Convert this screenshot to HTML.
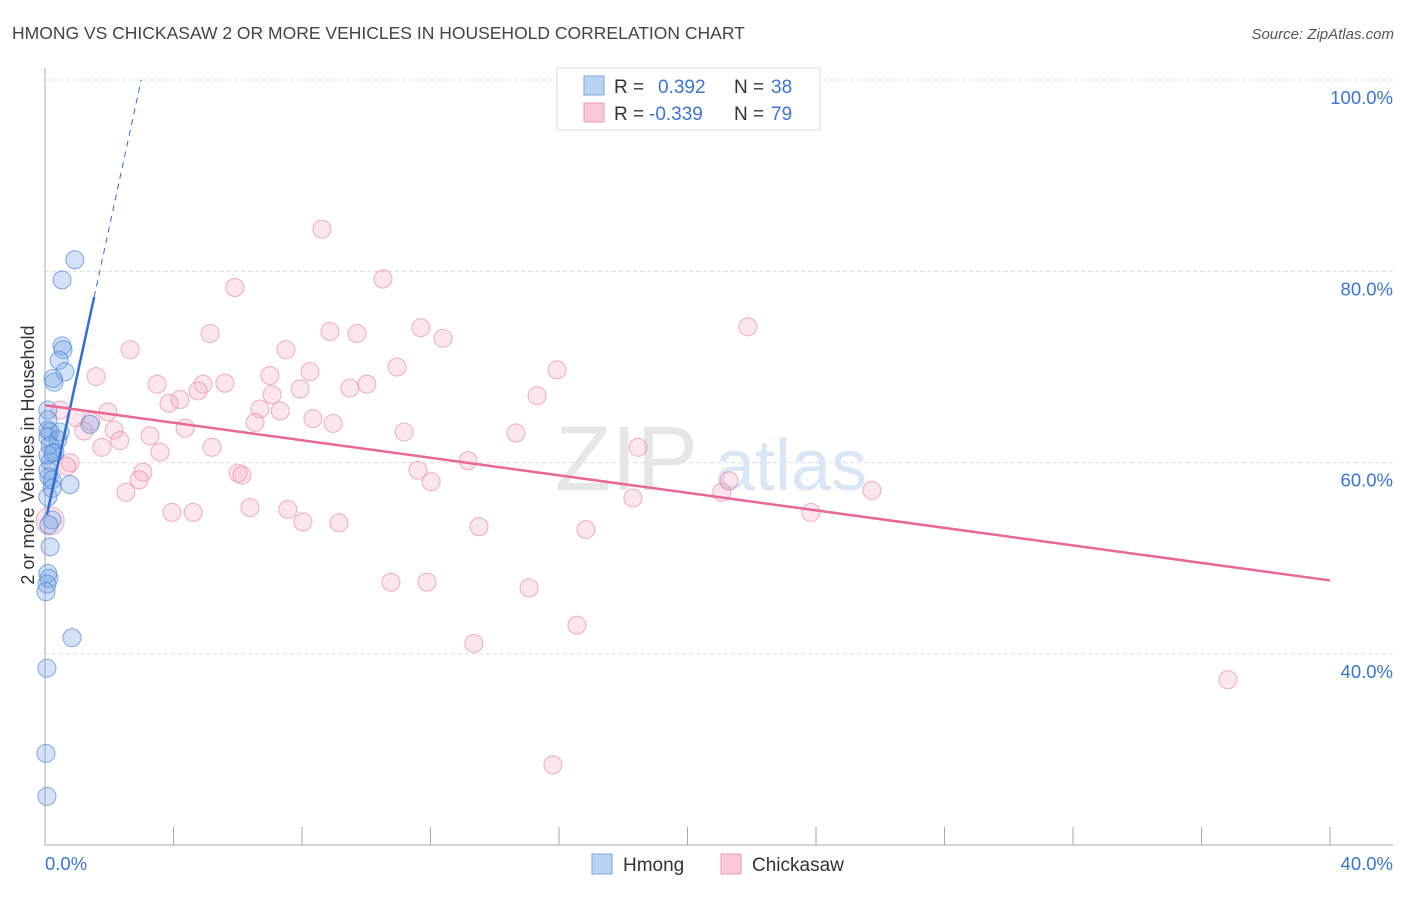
<!DOCTYPE html>
<html><head><meta charset="utf-8"><style>
body{margin:0;background:#fff;font-family:"Liberation Sans",sans-serif;}
svg text{font-family:"Liberation Sans",sans-serif;}
</style></head><body>
<svg width="1406" height="892" xmlns="http://www.w3.org/2000/svg">
<text x="12" y="39" font-size="17.5" fill="#444">HMONG VS CHICKASAW 2 OR MORE VEHICLES IN HOUSEHOLD CORRELATION CHART</text>
<text x="1394" y="39" font-size="15" fill="#555" text-anchor="end" font-style="italic">Source: ZipAtlas.com</text>
<g id="grid"></g>
<g id="wm">
<text x="555" y="490" font-size="92" fill="#e6e6e6" font-family="Liberation Serif">ZIP</text>
<text x="715" y="490" font-size="72" fill="#d9e6f5">atlas</text>
</g>
<g id="axes"></g>
<g id="pts"></g>
<g id="trend"></g>
<text transform="translate(34,455) rotate(-90)" font-size="18" fill="#333" text-anchor="middle">2 or more Vehicles in Household</text>
<g>
<rect x="557" y="68" width="263" height="62" fill="#fff" stroke="#ddd"/>
<rect x="584" y="76" width="20" height="19" fill="#b9d3f3" stroke="#7aa7e0"/>
<rect x="584" y="103" width="20" height="19" fill="#fbc8d7" stroke="#ee9ab5"/>
<text x="614" y="93" font-size="19" fill="#333">R = <tspan x="658" fill="#3a74d6">0.392</tspan><tspan x="734" fill="#333">N = </tspan><tspan x="771" fill="#3a74d6">38</tspan></text>
<text x="614" y="120" font-size="19" fill="#333">R = <tspan x="649" fill="#3a74d6">-0.339</tspan><tspan x="734" fill="#333">N = </tspan><tspan x="771" fill="#3a74d6">79</tspan></text>
</g>
<g>
<rect x="592" y="854" width="20" height="20" fill="#b9d3f3" stroke="#7aa7e0"/>
<text x="623" y="871" font-size="19" fill="#333">Hmong</text>
<rect x="721" y="854" width="20" height="20" fill="#fbc8d7" stroke="#ee9ab5"/>
<text x="752" y="871" font-size="19" fill="#333">Chickasaw</text>
</g>
</svg>
<script>
const yTicks=[40,60,80,100];
const yTickLabels=["40.0%","60.0%","80.0%","100.0%"];
const xTickVals=[0,4,8,12,16,20,24,28,32,36,40];
const hmongX=[0.93,0.53,0.53,0.56,0.44,0.62,0.28,0.25,0.09,0.09,1.40,0.09,0.16,0.09,0.40,0.31,0.16,0.09,0.12,0.22,0.78,0.22,0.09,0.22,0.12,0.16,0.09,0.12,0.06,0.03,0.84,0.06,0.03,0.06,0.16,0.47,0.09,0.25];
const hmongY=[81.2,79.1,72.2,71.8,70.7,69.5,68.4,68.8,65.5,64.5,64.0,63.4,63.2,62.7,62.4,61.1,60.1,59.2,58.5,58.2,57.7,57.3,56.4,54.0,53.5,51.2,48.4,47.9,47.3,46.5,41.7,38.5,29.6,25.1,61.8,63.2,60.8,61.0];
const chickX=[8.62,10.52,5.91,21.88,11.70,5.14,8.87,9.71,12.39,2.65,7.50,10.96,15.94,1.59,7.00,8.25,3.49,5.60,4.92,9.49,10.02,7.94,4.76,4.20,3.86,15.32,7.07,6.69,7.32,1.96,0.47,0.96,1.43,8.34,8.97,6.54,4.36,2.15,1.21,11.18,14.66,3.27,2.33,1.77,5.20,3.58,18.46,13.17,0.78,0.68,3.05,6.01,6.13,11.61,12.02,2.93,2.52,18.30,21.07,21.29,25.74,6.38,7.56,23.84,3.95,4.61,8.03,9.15,13.51,16.84,0.16,10.77,11.89,15.07,16.56,13.35,36.82,15.81];
const chickY=[84.4,79.2,78.3,74.2,74.1,73.5,73.7,73.5,73.0,71.8,71.8,70.0,69.7,69.0,69.1,69.5,68.2,68.3,68.2,67.8,68.2,67.7,67.5,66.6,66.2,67.0,67.1,65.6,65.4,65.3,65.5,64.7,64.3,64.6,64.1,64.2,63.6,63.4,63.3,63.2,63.1,62.8,62.3,61.6,61.6,61.1,61.6,60.2,60.0,59.6,59.0,58.9,58.7,59.2,58.0,58.2,56.9,56.3,56.9,58.1,57.1,55.3,55.1,54.8,54.8,54.8,53.8,53.7,53.3,53.0,53.9,47.5,47.5,46.9,43.0,41.1,37.3,28.4];
const hmongTrend=[53.6,15.5];
const chickTrend=[66.0,-0.458];
const NS="http://www.w3.org/2000/svg";
const X=v=>45+v*32.125, Y=v=>80+(100-v)*9.565;
function mk(tag,attrs,parent){const e=document.createElementNS(NS,tag);for(const k in attrs)e.setAttribute(k,attrs[k]);parent.appendChild(e);return e;}
const grid=document.getElementById('grid'),axes=document.getElementById('axes'),pts=document.getElementById('pts'),trend=document.getElementById('trend');
yTicks.forEach((t,i)=>{
 const l=mk('line',{x1:45,x2:1393,y1:Y(t),y2:Y(t),stroke:'#dcdcdc','stroke-dasharray':'4,3'},grid);
 
 
 const tx=mk('text',{x:1393,y:Y(t)+24,'font-size':18.5,fill:'#3a74d6','text-anchor':'end'},grid);
 tx.textContent=yTickLabels[i];
 
 
});
let a=mk('line',{x1:45,x2:45,y1:68,y2:845,stroke:'#aaa'},axes);


a=mk('line',{x1:45,x2:1393,y1:845,y2:845,stroke:'#aaa'},axes);


xTickVals.forEach(t=>{
 const l=mk('line',{x1:X(t),x2:X(t),y1:827,y2:845,stroke:'#aaa'},axes);
 
 
});
let t0=mk('text',{x:45,y:870,'font-size':18.5,fill:'#3a74d6'},axes);t0.textContent="0.0%";


let t1=mk('text',{x:1393,y:870,'font-size':18.5,fill:'#3a74d6','text-anchor':'end'},axes);t1.textContent="40.0%";


chickX.forEach((x,i)=>{
 const r=(i===70)?14:9;
 const c=mk('circle',{cx:X(x),cy:Y(chickY[i]),r:r,fill:'rgba(246,165,192,0.28)',stroke:'rgba(232,130,165,0.6)','stroke-width':1.1},pts);
 
 
});
hmongX.forEach((x,i)=>{
 const c=mk('circle',{cx:X(x),cy:Y(hmongY[i]),r:9,fill:'rgba(120,168,230,0.33)',stroke:'rgba(80,135,215,0.65)','stroke-width':1.1},pts);
 
 
});
const hy=x=>hmongTrend[0]+hmongTrend[1]*x, cy=x=>chickTrend[0]+chickTrend[1]*x;
let l=mk('line',{x1:X(0.06),y1:Y(hy(0.06)),x2:X(1.53),y2:Y(hy(1.53)),stroke:'#2f6fd6','stroke-width':2.5},trend);


const xe=(100-hmongTrend[0])/hmongTrend[1];
l=mk('line',{x1:X(1.53),y1:Y(hy(1.53)),x2:X(xe),y2:Y(100),stroke:'#2f6fd6','stroke-width':1,'stroke-dasharray':'6,5'},trend);


l=mk('line',{x1:X(0),y1:Y(cy(0)),x2:X(40),y2:Y(cy(40)),stroke:'#e8688f','stroke-width':2.5},trend);


</script>
</body></html>
